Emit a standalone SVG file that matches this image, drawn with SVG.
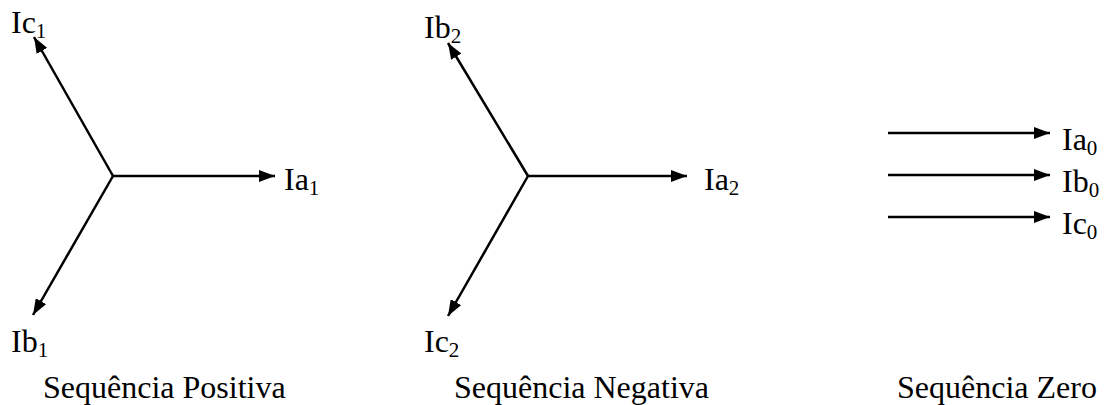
<svg xmlns="http://www.w3.org/2000/svg" width="1105" height="405" viewBox="0 0 1105 405">
<style>
text{font-family:"Liberation Serif","Times New Roman",Times,serif;font-size:32px;fill:#000}
.s{font-size:21px}
.c{stroke:#000;stroke-width:2.5;fill:none;marker-end:url(#ah)}
</style>
<defs>
<marker id="ah" markerUnits="userSpaceOnUse" markerWidth="16" markerHeight="12" refX="16" refY="6" orient="auto">
<path d="M0,0 L16,6 L0,12 Z" fill="#000"/>
</marker>
</defs>
<rect width="1105" height="405" fill="#fff"/>
<g id="connectors">
<line class="c" x1="113" y1="176" x2="275" y2="176"/>
<line class="c" x1="113" y1="176" x2="34" y2="37"/>
<line class="c" x1="113" y1="176" x2="33" y2="315"/>
<line class="c" x1="528" y1="176" x2="687" y2="176"/>
<line class="c" x1="528" y1="176" x2="448" y2="43"/>
<line class="c" x1="528" y1="176" x2="448" y2="316"/>
<line class="c" x1="888" y1="133" x2="1050" y2="133"/>
<line class="c" x1="888" y1="175" x2="1050" y2="175"/>
<line class="c" x1="888" y1="217" x2="1050" y2="217"/>
</g>
<g id="positive">
<text x="11" y="33">Ic<tspan class="s" dy="5">1</tspan></text>
<text x="284" y="190">Ia<tspan class="s" dy="5">1</tspan></text>
<text x="11" y="352">Ib<tspan class="s" dy="5">1</tspan></text>
<text x="43" y="398">Sequência Positiva</text>
</g>
<g id="negative">
<text x="424" y="38">Ib<tspan class="s" dy="5">2</tspan></text>
<text x="704" y="190">Ia<tspan class="s" dy="5">2</tspan></text>
<text x="424" y="352">Ic<tspan class="s" dy="5">2</tspan></text>
<text x="454" y="398">Sequência Negativa</text>
</g>
<g id="zero">
<text x="1062" y="150">Ia<tspan class="s" dy="5">0</tspan></text>
<text x="1062" y="192">Ib<tspan class="s" dy="5">0</tspan></text>
<text x="1062" y="234">Ic<tspan class="s" dy="5">0</tspan></text>
<text x="897" y="398">Sequência Zero</text>
</g>
</svg>
